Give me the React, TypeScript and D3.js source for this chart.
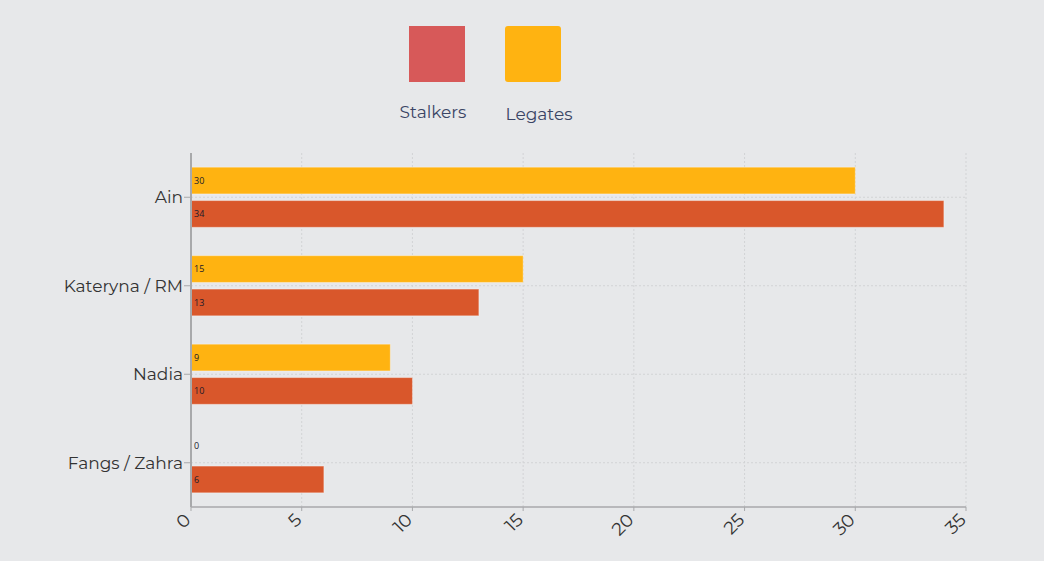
import * as d3 from 'd3'

const categories = ['Ain', 'Kateryna / RM', 'Nadia', 'Fangs / Zahra']
const seriesNames = ['Stalkers', 'Legates']
const stalkers = [34, 13, 10, 6]
const legates = [30, 15, 9, 0]
const xTicks = [0, 5, 10, 15, 20, 25, 30, 35]

const barColors: Record<string, string> = { Stalkers: '#d9572b', Legates: '#ffb311' }
const legendColors: Record<string, string> = { Stalkers: '#d75959', Legates: '#ffb311' }

const W = 1044
const H = 561
const margin = { top: 153, right: 78, bottom: 54, left: 191 }
const font = "Montserrat, 'Open Sans', 'Noto Sans', sans-serif"

export default function App() {
  const x = d3.scaleLinear().domain([0, 35]).range([margin.left, W - margin.right])
  const y0 = d3.scaleBand<string>().domain(categories).range([margin.top, H - margin.bottom])
  // Legates drawn above Stalkers inside each band
  const y1 = d3
    .scaleBand<string>()
    .domain(['Legates', 'Stalkers'])
    .range([0, y0.bandwidth()])
    .paddingInner(0.2)
    .paddingOuter(0.425)

  const rows = categories.map((c, i) => ({
    category: c,
    values: [
      { key: 'Legates', value: legates[i] },
      { key: 'Stalkers', value: stalkers[i] },
    ],
  }))

  const axisY = H - margin.bottom
  const legendX: Record<string, number> = { Stalkers: 409, Legates: 505 }

  return (
    <svg
      width={W}
      height={H}
      style={{ position: 'absolute', left: 0, top: 0, background: '#e7e8ea', fontFamily: font }}
    >
      {/* Legend */}
      {seriesNames.map((s, i) => (
        <g key={s}>
          <rect
            x={legendX[s]}
            y={26}
            width={56}
            height={56}
            rx={i === 1 ? 3 : 0}
            fill={legendColors[s]}
          />
          <text
            x={legendX[s] + 24 + i * 10}
            y={118 + i * 2}
            textAnchor="middle"
            fontSize={17}
            fill="#3a4565"
          >
            {s}
          </text>
        </g>
      ))}

      {/* Vertical grid */}
      {xTicks.slice(1).map((t) => (
        <line
          key={t}
          x1={x(t)}
          x2={x(t)}
          y1={margin.top}
          y2={axisY}
          stroke="#d2d3d5"
          strokeDasharray="2,2"
        />
      ))}
      {/* Horizontal grid at band centres */}
      {categories.map((c) => (
        <line
          key={c}
          x1={margin.left}
          x2={x(35)}
          y1={y0(c)! + y0.bandwidth() / 2}
          y2={y0(c)! + y0.bandwidth() / 2}
          stroke="#d2d3d5"
          strokeDasharray="2,2"
        />
      ))}

      {/* Bars */}
      {rows.map((r) => (
        <g key={r.category} transform={`translate(0,${y0(r.category)})`}>
          {r.values.map((v) => (
            <g key={v.key}>
              {v.value > 0 && (
                <rect
                  x={x(0)}
                  y={y1(v.key)}
                  width={x(v.value) - x(0)}
                  height={y1.bandwidth()}
                  fill={barColors[v.key]}
                  stroke="rgba(255,255,255,0.35)"
                  strokeWidth={1}
                />
              )}
              <text
                x={x(0) + 3}
                y={y1(v.key)! + y1.bandwidth() / 2}
                dy="0.35em"
                fontSize={9}
                fill="#1a1a2a"
                fontFamily="'Open Sans', sans-serif"
              >
                {v.value}
              </text>
            </g>
          ))}
        </g>
      ))}

      {/* Y axis */}
      <line x1={margin.left} x2={margin.left} y1={margin.top} y2={axisY} stroke="#a8a9ab" strokeWidth={2} />
      {categories.map((c) => {
        const cy = y0(c)! + y0.bandwidth() / 2
        return (
          <g key={c}>
            <line x1={margin.left - 7} x2={margin.left} y1={cy} y2={cy} stroke="#a8a9ab" />
            <text x={margin.left - 8} y={cy} dy="0.35em" textAnchor="end" fontSize={17} fill="#333">
              {c}
            </text>
          </g>
        )
      })}

      {/* X axis */}
      <line x1={margin.left} x2={x(35)} y1={axisY} y2={axisY} stroke="#a8a9ab" strokeWidth={1.5} />
      {xTicks.map((t) => (
        <g key={t}>
          <line x1={x(t)} x2={x(t)} y1={axisY} y2={axisY + 4} stroke="#a8a9ab" />
          <text
            transform={`translate(${x(t) + 1},${axisY + 14}) rotate(-45)`}
            textAnchor="end"
            fontSize={18}
            fill="#333"
          >
            {t}
          </text>
        </g>
      ))}
    </svg>
  )
}
